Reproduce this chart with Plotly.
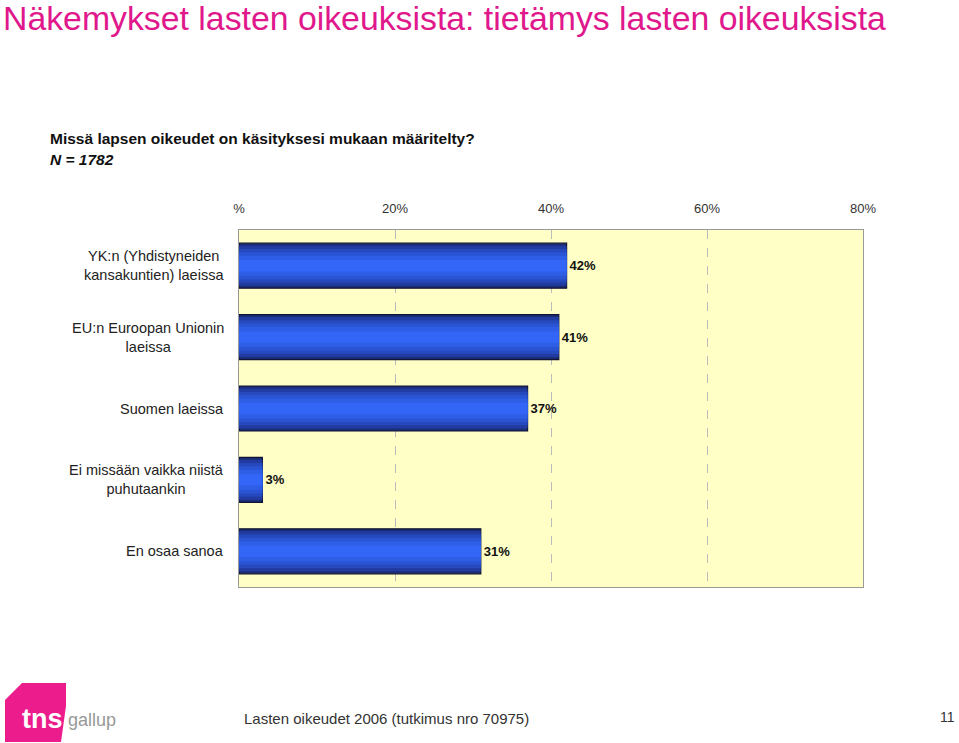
"""Tietämys lasten oikeuksista - horizontal bar chart."""

import plotly.graph_objects as go

categories = [
    "YK:n (Yhdistyneiden<br>kansakuntien) laeissa",
    "EU:n Euroopan Unionin<br>laeissa",
    "Suomen laeissa",
    "Ei missään vaikka niistä<br>puhutaankin",
    "En osaa sanoa",
]
values = [42, 41, 37, 3, 31]
tick_vals = [0, 20, 40, 60, 80]
tick_text = ["%", "20%", "40%", "60%", "80%"]

W, H = 959, 743
L, R, T, B = 239, 96, 230, 156


def px_x(x):
    return (x - L) / (W - L - R)


def px_y(y):
    return (H - B - y) / (H - T - B)


fig = go.Figure()

# layered bars to imitate the shaded (cylinder-like) fill
layers = [
    (0.63, "#1B2C78", dict(color="#111430", width=1.2)),
    (0.56, "#213BA0", dict(width=0)),
    (0.47, "#2649BE", dict(width=0)),
    (0.38, "#2A54D4", dict(width=0)),
    (0.28, "#2E5DE6", dict(width=0)),
    (0.16, "#3366F6", dict(width=0)),
]
for i, (w, col, ln) in enumerate(layers):
    last = i == len(layers) - 1
    fig.add_trace(
        go.Bar(
            x=values,
            y=categories,
            orientation="h",
            width=w,
            marker=dict(color=col, line=ln),
            text=[f"<b>{v}%</b>" for v in values] if last else None,
            textposition="outside" if last else "none",
            textfont=dict(size=13, color="#111111"),
            constraintext="none",
            cliponaxis=False,
            hoverinfo="skip" if not last else None,
        )
    )

fig.update_layout(
    width=W,
    height=H,
    margin=dict(l=L, r=R, t=T, b=B),
    barmode="overlay",
    paper_bgcolor="white",
    plot_bgcolor="#FFFFC6",
    font=dict(family="Liberation Sans, Arial, sans-serif", color="#222222"),
    showlegend=False,
    xaxis=dict(
        range=[0, 80],
        side="top",
        tickvals=tick_vals,
        ticktext=tick_text,
        tickfont=dict(size=13, color="#333333"),
        showgrid=True,
        gridcolor="#BBBBBB",
        griddash="dash",
        gridwidth=1,
        zeroline=False,
        showline=True,
        linecolor="#999999",
        mirror=True,
        ticks="",
        ticklabelstandoff=11,
    ),
    yaxis=dict(
        autorange="reversed",
        showticklabels=False,
        showgrid=False,
        showline=True,
        linecolor="#999999",
        mirror=True,
        ticks="",
    ),
)

# category labels, centred lines, right aligned block
for cat in categories:
    fig.add_annotation(
        x=px_x(226), xref="paper", y=cat, yref="y",
        text=cat, showarrow=False, xanchor="right", align="center",
        font=dict(size=14.5, color="#222222"),
    )

# titles
fig.add_annotation(
    x=px_x(1), y=px_y(18), xref="paper", yref="paper",
    text="Näkemykset lasten oikeuksista: tietämys lasten oikeuksista",
    showarrow=False, xanchor="left", yanchor="middle",
    font=dict(size=33.8, color="#E0188C"),
)
fig.add_annotation(
    x=px_x(48), y=px_y(138), xref="paper", yref="paper",
    text="<b>Missä lapsen oikeudet on käsityksesi mukaan määritelty?</b>",
    showarrow=False, xanchor="left", yanchor="middle",
    font=dict(size=15.5, color="#111111"),
)
fig.add_annotation(
    x=px_x(48), y=px_y(159), xref="paper", yref="paper",
    text="<b><i>N = 1782</i></b>",
    showarrow=False, xanchor="left", yanchor="middle",
    font=dict(size=15.5, color="#111111"),
)

# footer
fig.add_annotation(
    x=px_x(242), y=px_y(718), xref="paper", yref="paper",
    text="Lasten oikeudet 2006 (tutkimus nro 70975)",
    showarrow=False, xanchor="left", yanchor="middle",
    font=dict(size=15, color="#333333"),
)
fig.add_annotation(
    x=px_x(957), y=px_y(717), xref="paper", yref="paper",
    text="11", showarrow=False, xanchor="right", yanchor="middle",
    font=dict(size=14, color="#333333"),
)

# tns gallup logo
pts = [(5, 700), (22, 683), (66, 683), (66, 706), (61, 742), (5, 742)]
path = "M " + " L ".join(f"{px_x(x)},{px_y(y)}" for x, y in pts) + " Z"
fig.add_shape(
    type="path", path=path, xref="paper", yref="paper",
    fillcolor="#EC1C8C", line=dict(width=0), layer="above",
)
fig.add_annotation(
    x=px_x(20), y=px_y(719), xref="paper", yref="paper",
    text="<b>tns</b>", showarrow=False, xanchor="left", yanchor="middle",
    font=dict(size=27, color="white"),
)
fig.add_annotation(
    x=px_x(66), y=px_y(720), xref="paper", yref="paper",
    text="gallup", showarrow=False, xanchor="left", yanchor="middle",
    font=dict(size=18, color="#999999", family="Liberation Sans Narrow, Arial Narrow, sans-serif"),
)

fig.write_html(
    "out.html",
    config={"displayModeBar": False},
    post_script="document.body.style.margin='0';document.body.style.overflow='hidden';",
)
